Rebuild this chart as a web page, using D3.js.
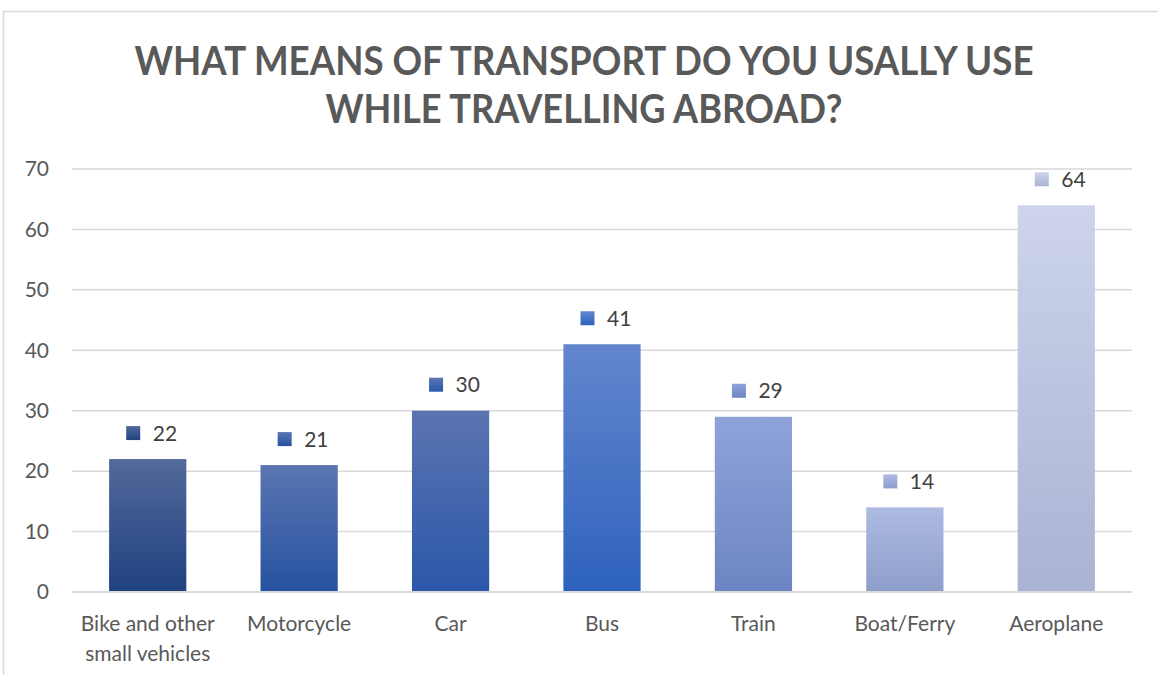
<!DOCTYPE html>
<html>
<head>
<meta charset="utf-8">
<script src="https://cdn.jsdelivr.net/npm/d3@7"></script>
<style>
  html, body { margin: 0; padding: 0; background: #fff; }
  svg { display: block; }
</style>
</head>
<body>
<script>
// Survey results: means of transport used abroad
const categories = ["Bike and other small vehicles", "Motorcycle", "Car", "Bus", "Train", "Boat/Ferry", "Aeroplane"];
const values = [22, 21, 30, 41, 29, 14, 64];
const yTicks = [0, 10, 20, 30, 40, 50, 60, 70];
const titleLines = ["WHAT MEANS OF TRANSPORT DO YOU USALLY USE", "WHILE TRAVELLING ABROAD?"];

// Top / bottom gradient colours for each bar
const barTop = ["#54699b", "#5a75b1", "#5b74b1", "#6386ce", "#8fa3da", "#adbae1", "#cdd4eb"];
const barBottom = ["#1f417f", "#2752a0", "#2b57a9", "#2e62bd", "#6c85c2", "#8e9ecb", "#a9b3d3"];

const W = 1158, H = 675;
const margin = { left: 72, right: 26, top: 169, bottom: 83 };
const font = "Lato, 'Open Sans', sans-serif";

const svg = d3.select("body").append("svg").attr("width", W).attr("height", H);

// Chart-area border
svg.append("rect")
  .attr("x", 3.5).attr("y", 11.5)
  .attr("width", W + 10).attr("height", H + 10)
  .attr("fill", "#fff").attr("stroke", "#d9d9d9").attr("stroke-width", 1.5);

// Gradients
const defs = svg.append("defs");
categories.forEach((c, i) => {
  const g = defs.append("linearGradient").attr("id", "grad" + i)
    .attr("x1", 0).attr("y1", 0).attr("x2", 0).attr("y2", 1);
  g.append("stop").attr("offset", "0%").attr("stop-color", barTop[i]);
  g.append("stop").attr("offset", "100%").attr("stop-color", barBottom[i]);
});

// Title
const title = svg.append("g").attr("font-family", font).attr("font-weight", 700)
  .attr("fill", "#595959").attr("font-size", 41).attr("text-anchor", "middle");
const titleWidths = [899, 517];
titleLines.forEach((t, i) => {
  title.append("text")
    .attr("x", 584).attr("y", 75 + i * 48)
    .attr("textLength", titleWidths[i]).attr("lengthAdjust", "spacingAndGlyphs")
    .text(t);
});

const x = d3.scaleBand().domain(categories)
  .range([margin.left, W - margin.right]).paddingInner(0.49).paddingOuter(0.245);
const y = d3.scaleLinear().domain([0, 70]).range([H - margin.bottom, margin.top]);

// Gridlines
svg.append("g").selectAll("line").data(yTicks).join("line")
  .attr("x1", margin.left).attr("x2", W - margin.right)
  .attr("y1", d => y(d)).attr("y2", d => y(d))
  .attr("stroke", "#d9d9d9").attr("stroke-width", 1.5);

// Y axis labels
const yAxis = svg.append("g")
  .attr("transform", `translate(${margin.left - 16},0)`)
  .call(d3.axisLeft(y).tickValues(yTicks).tickSize(0).tickPadding(7));
yAxis.select(".domain").remove();
yAxis.selectAll("text").attr("font-family", font).attr("font-size", 21).attr("fill", "#595959");

// Bars
svg.append("g").selectAll("rect").data(values).join("rect")
  .attr("x", (d, i) => x(categories[i]))
  .attr("y", d => y(d))
  .attr("width", x.bandwidth())
  .attr("height", d => y(0) - y(d))
  .attr("fill", (d, i) => `url(#grad${i})`);

// Baseline
svg.append("line")
  .attr("x1", margin.left).attr("x2", W - margin.right)
  .attr("y1", y(0)).attr("y2", y(0))
  .attr("stroke", "#d9d9d9").attr("stroke-width", 2);

// Data labels with legend key
const labels = svg.append("g").selectAll("g").data(values).join("g")
  .attr("transform", (d, i) => `translate(${x(categories[i]) + x.bandwidth() / 2},${y(d) - 26})`);
labels.append("rect")
  .attr("x", -21.5).attr("y", -7).attr("width", 14).attr("height", 14)
  .attr("fill", (d, i) => `url(#grad${i})`);
labels.append("text")
  .attr("x", 5).attr("dy", "0.36em")
  .attr("font-family", font).attr("font-size", 21).attr("fill", "#404040")
  .text(d => d);

// Category labels (wrapped)
const wrap = { "Bike and other small vehicles": ["Bike and other", "small vehicles"] };
const xl = svg.append("g").attr("font-family", font).attr("font-size", 21)
  .attr("fill", "#595959").attr("text-anchor", "middle");
categories.forEach(c => {
  const lines = wrap[c] || [c];
  const t = xl.append("text").attr("x", x(c) + x.bandwidth() / 2).attr("y", 631);
  lines.forEach((l, j) => {
    t.append("tspan").attr("x", x(c) + x.bandwidth() / 2).attr("dy", j ? 30 : 0).text(l);
  });
});
</script>
</body>
</html>
